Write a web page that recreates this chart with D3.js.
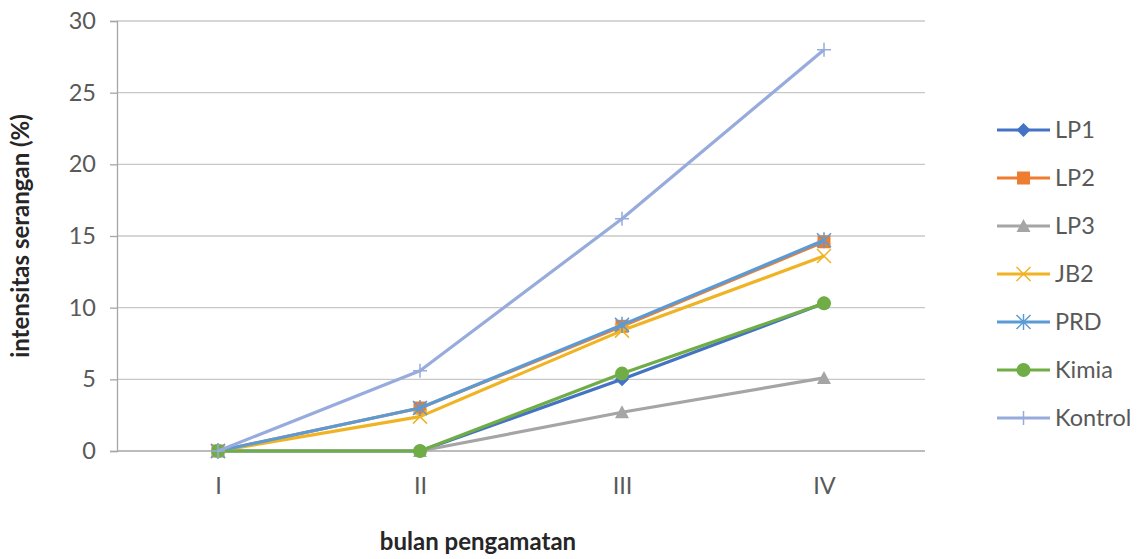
<!DOCTYPE html>
<html>
<head>
<meta charset="utf-8">
<script src="https://cdn.jsdelivr.net/npm/d3@7"></script>
<style>
  body { margin: 0; background: #fff; }
  svg text { font-family: Lato, "Open Sans", sans-serif; }
</style>
</head>
<body>
<div id="chart"></div>
<script>
const months = ['I', 'II', 'III', 'IV'];
const yTicks = [0, 5, 10, 15, 20, 25, 30];

const lp1 = [0, 0, 5.0, 10.3];
const lp2 = [0, 3.0, 8.7, 14.6];
const lp3 = [0, 0, 2.7, 5.1];
const jb2 = [0, 2.4, 8.4, 13.6];
const prd = [0, 3.0, 8.8, 14.7];
const kimia = [0, 0, 5.4, 10.3];
const kontrol = [0, 5.6, 16.2, 28.0];

const series = [
  {name: 'LP1', values: lp1, color: '#4472C4', marker: 'diamond'},
  {name: 'LP2', values: lp2, color: '#ED7D31', marker: 'square'},
  {name: 'LP3', values: lp3, color: '#A5A5A5', marker: 'triangle'},
  {name: 'JB2', values: jb2, color: '#F0B323', marker: 'x'},
  {name: 'PRD', values: prd, color: '#5B9BD5', marker: 'star'},
  {name: 'Kimia', values: kimia, color: '#70AD47', marker: 'circle'},
  {name: 'Kontrol', values: kontrol, color: '#97ABDC', marker: 'plus'}
];

const W = 1142, H = 559;
const margin = {top: 21, right: 217, bottom: 108, left: 117};

const svg = d3.select('#chart').append('svg')
  .attr('width', W)
  .attr('height', H);

const x = d3.scalePoint()
  .domain(months)
  .range([margin.left, W - margin.right])
  .padding(0.5);

const y = d3.scaleLinear()
  .domain([0, 30])
  .range([H - margin.bottom, margin.top]);

// gridlines
svg.append('g')
  .selectAll('line')
  .data(yTicks.slice(1))
  .enter()
  .append('line')
  .attr('x1', margin.left)
  .attr('x2', W - margin.right)
  .attr('y1', d => y(d))
  .attr('y2', d => y(d))
  .attr('stroke', '#C8C8C8')
  .attr('stroke-width', 1.3);

// y axis
const yAxis = svg.append('g')
  .attr('transform', `translate(${margin.left},0)`)
  .call(d3.axisLeft(y).tickValues(yTicks).tickSize(7).tickPadding(14));
yAxis.select('.domain').attr('stroke', '#A6A6A6').attr('stroke-width', 1.3);
yAxis.selectAll('.tick line').attr('stroke', '#A6A6A6').attr('stroke-width', 1.3);
yAxis.selectAll('.tick text')
  .attr('font-size', '23.5px')
  .attr('fill', '#595959')
  .style('font-family', 'Lato, sans-serif');

// x axis
const xAxis = svg.append('g')
  .attr('transform', `translate(0,${y(0)})`)
  .call(d3.axisBottom(x).tickSize(0).tickPadding(26));
xAxis.select('.domain').attr('stroke', '#A6A6A6').attr('stroke-width', 1.3)
  .attr('d', `M${margin.left},0H${W - margin.right}`);
xAxis.selectAll('.tick text')
  .attr('font-size', '23.5px')
  .attr('fill', '#595959')
  .style('font-family', 'Lato, sans-serif');

// axis titles
svg.append('text')
  .attr('transform', `translate(29,${(y(0) + y(30)) / 2}) rotate(-90)`)
  .attr('text-anchor', 'middle')
  .attr('font-size', '24px')
  .attr('font-weight', 'bold')
  .attr('fill', '#262626')
  .text('intensitas serangan (%)');

svg.append('text')
  .attr('x', 478)
  .attr('y', 550)
  .attr('text-anchor', 'middle')
  .attr('font-size', '24px')
  .attr('font-weight', 'bold')
  .attr('fill', '#262626')
  .text('bulan pengamatan');

function drawMarker(g, type, color) {
  if (type === 'diamond') {
    g.append('path').attr('d', 'M0,-7L7,0L0,7L-7,0Z').attr('fill', color);
  } else if (type === 'square') {
    g.append('rect').attr('x', -6.5).attr('y', -6.5).attr('width', 13).attr('height', 13).attr('fill', color);
  } else if (type === 'triangle') {
    g.append('path').attr('d', 'M0,-7L7,6L-7,6Z').attr('fill', color);
  } else if (type === 'circle') {
    g.append('circle').attr('r', 7).attr('fill', color);
  } else if (type === 'x') {
    g.append('path').attr('d', 'M-7,-7L7,7M-7,7L7,-7').attr('stroke', color).attr('stroke-width', 1.5);
  } else if (type === 'star') {
    g.append('path').attr('d', 'M-7,-7L7,7M-7,7L7,-7M0,-8V8').attr('stroke', color).attr('stroke-width', 1.5);
  } else if (type === 'plus') {
    g.append('path').attr('d', 'M-7,0H7M0,-7V7').attr('stroke', color).attr('stroke-width', 1.5);
  }
}

const line = d3.line()
  .x((d, i) => x(months[i]))
  .y(d => y(d));

series.forEach(s => {
  svg.append('path')
    .datum(s.values)
    .attr('fill', 'none')
    .attr('stroke', s.color)
    .attr('stroke-width', 3.2)
    .attr('stroke-linejoin', 'round')
    .attr('d', line);
  s.values.forEach((v, i) => {
    const g = svg.append('g').attr('transform', `translate(${x(months[i])},${y(v)})`);
    drawMarker(g, s.marker, s.color);
  });
});

// legend
const legend = svg.append('g').attr('transform', 'translate(997,130)');
series.forEach((s, i) => {
  const g = legend.append('g').attr('transform', `translate(0,${i * 48})`);
  g.append('line')
    .attr('x1', 0).attr('x2', 53)
    .attr('stroke', s.color).attr('stroke-width', 3.2);
  drawMarker(g.append('g').attr('transform', 'translate(26.5,0)'), s.marker, s.color);
  g.append('text')
    .attr('x', 58)
    .attr('dy', '0.35em')
    .attr('font-size', '23.5px')
    .attr('fill', '#595959')
    .text(s.name);
});
</script>
</body>
</html>
